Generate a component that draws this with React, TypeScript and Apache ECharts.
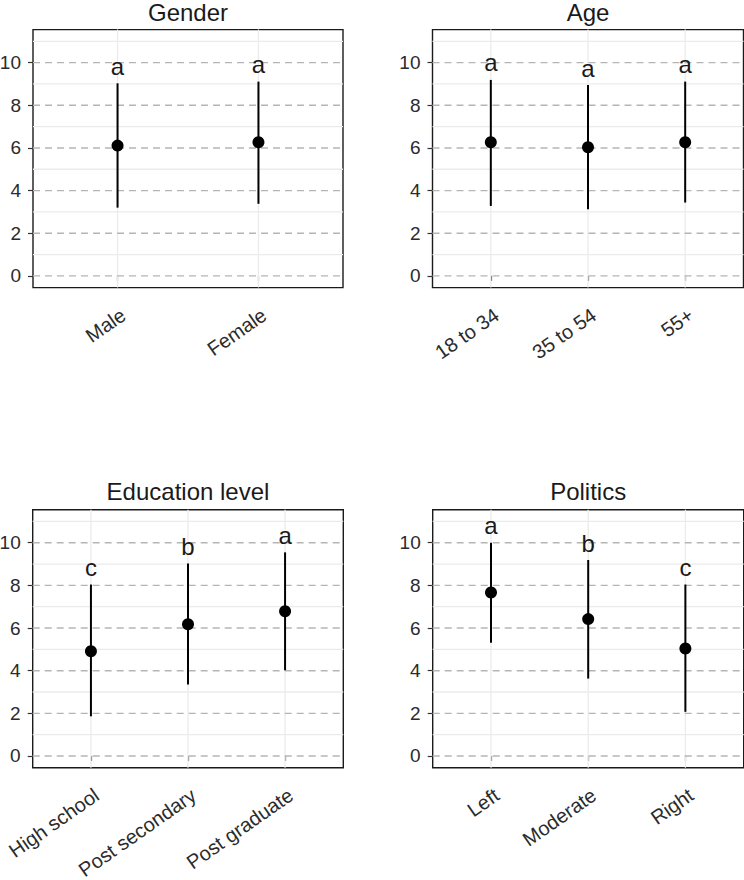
import React, { useEffect, useRef } from "react";
import * as echarts from "echarts";

// ---------- data ----------
const genderCategories = ["Male", "Female"];
const genderMeans = [6.11, 6.27];
const genderLower = [3.2, 3.38];
const genderUpper = [9.03, 9.11];
const genderLetters = ["a", "a"];

const ageCategories = ["18 to 34", "35 to 54", "55+"];
const ageMeans = [6.27, 6.03, 6.27];
const ageLower = [3.28, 3.13, 3.44];
const ageUpper = [9.19, 8.95, 9.11];
const ageLetters = ["a", "a", "a"];

const educationCategories = ["High school", "Post secondary", "Post graduate"];
const educationMeans = [4.91, 6.18, 6.79];
const educationLower = [1.86, 3.35, 4.02];
const educationUpper = [8.04, 9.03, 9.55];
const educationLetters = ["c", "b", "a"];

const politicsCategories = ["Left", "Moderate", "Right"];
const politicsMeans = [7.67, 6.42, 5.04];
const politicsLower = [5.31, 3.63, 2.07];
const politicsUpper = [10.0, 9.19, 8.04];
const politicsLetters = ["a", "b", "c"];

const yTickLabels = [0, 2, 4, 6, 8, 10];
const yMinorLines = [1, 3, 5, 7, 9, 11];
const yMin = -0.55;
const yMax = 11.55;

// ---------- layout ----------
const FONT = "'Liberation Sans', Arial, sans-serif";
const PANEL_H = 258;

const panels = [
  { title: "Gender", categories: genderCategories, means: genderMeans, lower: genderLower, upper: genderUpper, letters: genderLetters, left: 33, top: 29.6, width: 310, titleY: 12.5 },
  { title: "Age", categories: ageCategories, means: ageMeans, lower: ageLower, upper: ageUpper, letters: ageLetters, left: 432.5, top: 29.6, width: 311, titleY: 12.5 },
  { title: "Education level", categories: educationCategories, means: educationMeans, lower: educationLower, upper: educationUpper, letters: educationLetters, left: 32.7, top: 509.7, width: 310.6, titleY: 491 },
  { title: "Politics", categories: politicsCategories, means: politicsMeans, lower: politicsLower, upper: politicsUpper, letters: politicsLetters, left: 432.7, top: 509.7, width: 311, titleY: 491 },
];

function buildOption() {
  const grid: any[] = [];
  const xAxis: any[] = [];
  const yAxis: any[] = [];
  const series: any[] = [];
  const graphic: any[] = [];

  panels.forEach((p, i) => {
    const n = p.categories.length;
    const positions = p.categories.map((_, j) => j + 1);

    grid.push({
      left: p.left,
      top: p.top,
      width: p.width,
      height: PANEL_H,
      show: true,
      backgroundColor: "#ffffff",
      borderColor: "#1a1a1a",
      borderWidth: 1.4,
      containLabel: false,
      outerBoundsMode: "none",
    });

    xAxis.push({
      gridIndex: i,
      type: "value",
      min: 0.4,
      max: n + 0.6,
      axisLine: { show: false },
      splitLine: { show: false },
      axisTick: {
        show: true,
        length: 5,
        customValues: positions,
        lineStyle: { color: "#333333", width: 1.2 },
      },
      axisLabel: {
        customValues: positions,
        formatter: (v: number) => p.categories[Math.round(v) - 1] ?? "",
        rotate: 35,
        align: "right",
        verticalAlign: "top",
        margin: 17,
        fontSize: 20,
        color: "#2b2b2b",
        fontFamily: FONT,
      },
    });

    yAxis.push({
      gridIndex: i,
      type: "value",
      min: yMin,
      max: yMax,
      axisLine: { show: false },
      splitLine: { show: false },
      axisTick: {
        show: true,
        length: 5,
        customValues: yTickLabels,
        lineStyle: { color: "#333333", width: 1.2 },
      },
      axisLabel: {
        customValues: yTickLabels,
        margin: 12,
        fontSize: 19,
        color: "#2b2b2b",
        fontFamily: FONT,
      },
    });

    // grid lines: kind 0 = major dashed horizontal, 1 = minor horizontal, 2 = vertical
    const gridData: number[][] = [
      ...yMinorLines.map((v) => [1, v]),
      ...positions.map((v) => [2, v]),
      ...yTickLabels.map((v) => [0, v]),
    ];
    series.push({
      type: "custom",
      xAxisIndex: i,
      yAxisIndex: i,
      silent: true,
      z: 1,
      data: gridData,
      encode: { x: 1, y: 1 },
      renderItem: (params: any, api: any) => {
        const cs = params.coordSys;
        const kind = api.value(0);
        const v = api.value(1);
        if (kind === 2) {
          const pt = api.coord([v, 0]);
          return {
            type: "line",
            shape: { x1: pt[0], y1: cs.y, x2: pt[0], y2: cs.y + cs.height },
            style: { stroke: "#ebebeb", lineWidth: 1.3 },
          };
        }
        const pt = api.coord([1, v]);
        return {
          type: "line",
          shape: { x1: cs.x, y1: pt[1], x2: cs.x + cs.width, y2: pt[1] },
          style:
            kind === 0
              ? { stroke: "#b5b5b5", lineWidth: 1.4, lineDash: [7, 5] }
              : { stroke: "#ebebeb", lineWidth: 1.3 },
        };
      },
    });

    // error bars
    series.push({
      type: "custom",
      xAxisIndex: i,
      yAxisIndex: i,
      silent: true,
      z: 2,
      data: positions.map((x, j) => [x, p.lower[j], p.upper[j]]),
      encode: { x: 0, y: [1, 2] },
      renderItem: (_params: any, api: any) => {
        const x = api.value(0);
        const lo = api.coord([x, api.value(1)]);
        const hi = api.coord([x, api.value(2)]);
        return {
          type: "line",
          shape: { x1: lo[0], y1: lo[1], x2: hi[0], y2: hi[1] },
          style: { stroke: "#000000", lineWidth: 2 },
        };
      },
    });

    // means
    series.push({
      type: "scatter",
      xAxisIndex: i,
      yAxisIndex: i,
      silent: true,
      z: 3,
      symbol: "circle",
      symbolSize: 12,
      itemStyle: { color: "#000000", opacity: 1 },
      data: positions.map((x, j) => [x, p.means[j]]),
    });

    // group letters
    series.push({
      type: "scatter",
      xAxisIndex: i,
      yAxisIndex: i,
      silent: true,
      z: 4,
      symbolSize: 0,
      itemStyle: { color: "#000000", opacity: 1 },
      data: positions.map((x, j) => [x, p.upper[j]]),
      label: {
        show: true,
        position: "top",
        distance: 5,
        formatter: (prm: any) => p.letters[prm.dataIndex],
        fontSize: 24,
        color: "#1a1a1a",
        opacity: 1,
        fontFamily: FONT,
      },
    });

    graphic.push({
      type: "text",
      x: p.left + p.width / 2,
      y: p.titleY,
      silent: true,
      style: {
        text: p.title,
        fontSize: 24,
        fontFamily: FONT,
        fill: "#1a1a1a",
        align: "center",
        verticalAlign: "middle",
      },
    });
  });

  return {
    animation: false,
    backgroundColor: "#ffffff",
    textStyle: { fontFamily: FONT },
    grid,
    xAxis,
    yAxis,
    series,
    graphic,
  };
}

export default function App() {
  const ref = useRef<HTMLDivElement>(null);

  useEffect(() => {
    document.body.style.margin = "0";
    if (!ref.current) return;
    const chart = echarts.init(ref.current, undefined, { renderer: "svg" });
    chart.setOption(buildOption() as any);
    return () => {
      chart.dispose();
    };
  }, []);

  return <div ref={ref} style={{ width: 744, height: 880 }} />;
}
